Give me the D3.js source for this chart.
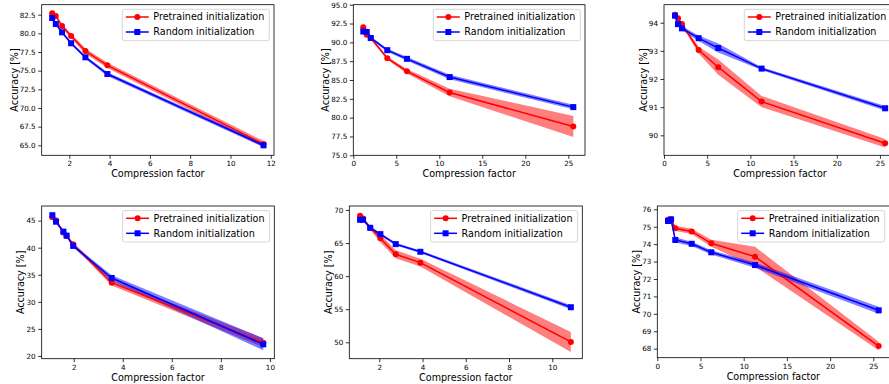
<!DOCTYPE html>
<html><head><meta charset="utf-8">
<script src="https://cdn.jsdelivr.net/npm/d3@7"></script>
<style>
html,body{margin:0;padding:0;background:#fff;}
svg{display:block;font-family:"DejaVu Sans",sans-serif;}
</style></head>
<body><svg id="chart" width="889" height="384"></svg>
<script>
// ---------- data ----------
const seriesNames = ["Pretrained initialization", "Random initialization"];
const xLabel = "Compression factor";
const yLabel = "Accuracy [%]";

const p1X = [1.15, 1.33, 1.64, 2.09, 2.80, 3.89, 11.64];
const p1Pre = [82.70, 82.33, 80.98, 79.65, 77.63, 75.72, 65.17];
const p1PreStd = [0.15, 0.2, 0.25, 0.3, 0.35, 0.35, 0.4];
const p1Rnd = [82.06, 81.25, 80.14, 78.67, 76.79, 74.55, 65.0];
const p1RndStd = [0.15, 0.15, 0.2, 0.2, 0.2, 0.25, 0.25];
const p1XTicks = [2, 4, 6, 8, 10, 12];
const p1YTicks = [65.0, 67.5, 70.0, 72.5, 75.0, 77.5, 80.0, 82.5];

const p2X = [1.16, 1.56, 2.03, 3.95, 6.24, 11.2, 25.58];
const p2Pre = [91.99, 91.02, 90.58, 87.90, 86.15, 83.34, 78.82];
const p2PreStd = [0.2, 0.2, 0.2, 0.2, 0.3, 0.5, 1.4];
const p2Rnd = [91.44, 91.38, 90.58, 88.96, 87.81, 85.39, 81.4];
const p2RndStd = [0.2, 0.2, 0.2, 0.2, 0.25, 0.3, 0.3];
const p2XTicks = [0, 5, 10, 15, 20, 25];
const p2YTicks = [75.0, 77.5, 80.0, 82.5, 85.0, 87.5, 90.0, 92.5, 95.0];

const p3X = [1.27, 1.62, 2.08, 4.01, 6.28, 11.3, 25.6];
const p3Pre = [94.28, 94.16, 93.95, 93.03, 92.42, 91.2, 89.72];
const p3PreStd = [0.05, 0.05, 0.06, 0.12, 0.27, 0.2, 0.15];
const p3Rnd = [94.25, 93.95, 93.80, 93.45, 93.10, 92.37, 90.96];
const p3RndStd = [0.05, 0.05, 0.07, 0.1, 0.16, 0.05, 0.08];
const p3XTicks = [0, 5, 10, 15, 20, 25];
const p3YTicks = [90, 91, 92, 93, 94];

const p4X = [1.13, 1.28, 1.58, 1.71, 1.98, 3.55, 9.73];
const p4Pre = [45.63, 45.0, 42.8, 42.17, 40.64, 33.54, 22.45];
const p4PreStd = [0.3, 0.3, 0.3, 0.3, 0.3, 0.5, 0.85];
const p4Rnd = [46.0, 44.8, 42.97, 42.23, 40.33, 34.4, 22.15];
const p4RndStd = [0.3, 0.3, 0.3, 0.3, 0.3, 0.5, 1.1];
const p4XTicks = [2, 4, 6, 8, 10];
const p4YTicks = [20, 25, 30, 35, 40, 45];

const p5X = [1.11, 1.25, 1.58, 2.05, 2.76, 3.9, 10.86];
const p5Pre = [69.12, 68.72, 67.3, 65.72, 63.3, 62.04, 50.05];
const p5PreStd = [0.2, 0.2, 0.3, 0.6, 0.6, 0.6, 1.5];
const p5Rnd = [68.52, 68.52, 67.3, 66.35, 64.84, 63.68, 55.3];
const p5RndStd = [0.2, 0.2, 0.2, 0.2, 0.2, 0.2, 0.3];
const p5XTicks = [2, 4, 6, 8, 10];
const p5YTicks = [50, 55, 60, 65, 70];

const p6X = [1.24, 1.59, 2.08, 3.98, 6.25, 11.31, 25.62];
const p6Pre = [75.40, 75.43, 74.91, 74.73, 74.05, 73.28, 68.15];
const p6PreStd = [0.08, 0.1, 0.15, 0.15, 0.2, 0.57, 0.24];
const p6Rnd = [75.33, 75.42, 74.24, 74.02, 73.53, 72.8, 70.2];
const p6RndStd = [0.08, 0.15, 0.15, 0.12, 0.12, 0.15, 0.2];
const p6XTicks = [0, 5, 10, 15, 20, 25];
const p6YTicks = [68, 69, 70, 71, 72, 73, 74, 75, 76];

// ---------- layout ----------
const panels = [
  {x: p1X, pre: p1Pre, preS: p1PreStd, rnd: p1Rnd, rndS: p1RndStd, xt: p1XTicks, yt: p1YTicks, yf: ".1f",
   L: 41.7, R: 274, T: 4.7, B: 155.3, xd: [0.63, 12.16], yd: [63.66, 83.84], ylx: 14},
  {x: p2X, pre: p2Pre, preS: p2PreStd, rnd: p2Rnd, rndS: p2RndStd, xt: p2XTicks, yt: p2YTicks, yf: ".1f",
   L: 353.3, R: 585, T: 4.7, B: 155.3, xd: [0, 26.94], yd: [75, 95], ylx: 325},
  {x: p3X, pre: p3Pre, preS: p3PreStd, rnd: p3Rnd, rndS: p3RndStd, xt: p3XTicks, yt: p3YTicks, yf: "d",
   L: 664, R: 896, T: 4.7, B: 155.3, xd: [0, 26.86], yd: [89.29, 94.64], ylx: 643},
  {x: p4X, pre: p4Pre, preS: p4PreStd, rnd: p4Rnd, rndS: p4RndStd, xt: p4XTicks, yt: p4YTicks, yf: "d",
   L: 41.7, R: 274.3, T: 206, B: 358.7, xd: [0.696, 10.18], yd: [19.5, 47.7], ylx: 20.5},
  {x: p5X, pre: p5Pre, preS: p5PreStd, rnd: p5Rnd, rndS: p5RndStd, xt: p5XTicks, yt: p5YTicks, yf: "d",
   L: 349.3, R: 582.3, T: 206, B: 358.7, xd: [0.613, 11.39], yd: [47.52, 70.6], ylx: 328},
  {x: p6X, pre: p6Pre, preS: p6PreStd, rnd: p6Rnd, rndS: p6RndStd, xt: p6XTicks, yt: p6YTicks, yf: "d",
   L: 657.3, R: 889.4, T: 206, B: 357.7, xd: [0, 26.86], yd: [67.48, 76.19], ylx: 636.5}
];

const RED = "#ff0000", BLUE = "#0000ff";
const svg = d3.select("#chart");
const tickFont = 7.2, labelFont = 9.6;

panels.forEach((p, i) => {
  const xs = d3.scaleLinear().domain(p.xd).range([p.L, p.R]);
  const ys = d3.scaleLinear().domain(p.yd).range([p.B, p.T]);
  const g = svg.append("g");
  const clipId = "clip" + i;
  svg.append("defs").append("clipPath").attr("id", clipId)
    .append("rect").attr("x", p.L).attr("y", p.T).attr("width", p.R - p.L).attr("height", p.B - p.T);
  const plot = g.append("g").attr("clip-path", `url(#${clipId})`);

  const series = [
    {vals: p.pre, std: p.preS, color: RED, shape: "circle"},
    {vals: p.rnd, std: p.rndS, color: BLUE, shape: "square"}
  ];
  const area = d3.area().x(d => xs(d.x)).y0(d => ys(d.v - d.s)).y1(d => ys(d.v + d.s));
  const line = d3.line().x(d => xs(d.x)).y(d => ys(d.v));
  series.forEach(s => {
    const pts = p.x.map((x, k) => ({x, v: s.vals[k], s: s.std[k]}));
    plot.append("path").datum(pts).attr("d", area).attr("fill", s.color).attr("fill-opacity", 0.5).attr("stroke", "none");
  });
  series.forEach(s => {
    const pts = p.x.map((x, k) => ({x, v: s.vals[k]}));
    plot.append("path").datum(pts).attr("d", line).attr("fill", "none").attr("stroke", s.color).attr("stroke-width", 1.5);
    if (s.shape === "circle") {
      plot.selectAll(null).data(pts).enter().append("circle")
        .attr("cx", d => xs(d.x)).attr("cy", d => ys(d.v)).attr("r", 3).attr("fill", s.color);
    } else {
      plot.selectAll(null).data(pts).enter().append("rect")
        .attr("x", d => xs(d.x) - 3).attr("y", d => ys(d.v) - 3).attr("width", 6).attr("height", 6).attr("fill", s.color);
    }
  });

  const xAxis = d3.axisBottom(xs).tickValues(p.xt).tickFormat(d3.format("d")).tickSize(3.5).tickPadding(2.5);
  const yAxis = d3.axisLeft(ys).tickValues(p.yt).tickFormat(d3.format(p.yf)).tickSize(3.5).tickPadding(2.5);
  const gx = g.append("g").attr("transform", `translate(0,${p.B})`).call(xAxis);
  const gy = g.append("g").attr("transform", `translate(${p.L},0)`).call(yAxis);
  [gx, gy].forEach(a => {
    a.select(".domain").remove();
    a.selectAll("line").attr("stroke", "#000").attr("stroke-width", 0.8);
    a.selectAll("text").attr("font-size", tickFont).attr("font-family", "DejaVu Sans").attr("fill", "#000");
  });
  g.append("rect").attr("x", p.L).attr("y", p.T).attr("width", p.R - p.L).attr("height", p.B - p.T)
    .attr("fill", "none").attr("stroke", "#000").attr("stroke-width", 0.8);

  g.append("text").attr("x", (p.L + p.R) / 2).attr("y", p.B + 22)
    .attr("text-anchor", "middle").attr("font-size", labelFont).attr("fill", "#000").text(xLabel);
  g.append("text").attr("transform", `translate(${p.ylx},${(p.T + p.B) / 2}) rotate(-90)`)
    .attr("text-anchor", "middle").attr("dominant-baseline", "central")
    .attr("font-size", labelFont).attr("fill", "#000").text(yLabel);

  const lw = 147, lh = 31.4;
  const lx = p.R - 4.7 - lw, ly = p.T + 4.6;
  const lg = g.append("g").attr("transform", `translate(${lx},${ly})`);
  lg.append("rect").attr("width", lw).attr("height", lh).attr("rx", 2).attr("ry", 2)
    .attr("fill", "#fff").attr("fill-opacity", 0.8).attr("stroke", "#cccccc").attr("stroke-width", 0.8);
  series.forEach((s, k) => {
    const cy = 7.7 + k * 15;
    lg.append("line").attr("x1", 3.5).attr("x2", 26.5).attr("y1", cy).attr("y2", cy)
      .attr("stroke", s.color).attr("stroke-width", 1.5);
    if (s.shape === "circle") lg.append("circle").attr("cx", 15).attr("cy", cy).attr("r", 3).attr("fill", s.color);
    else lg.append("rect").attr("x", 12).attr("y", cy - 3).attr("width", 6).attr("height", 6).attr("fill", s.color);
    lg.append("text").attr("x", 31).attr("y", cy).attr("dominant-baseline", "central")
      .attr("font-size", labelFont).attr("fill", "#000").text(seriesNames[k]);
  });
});
</script></body></html>
